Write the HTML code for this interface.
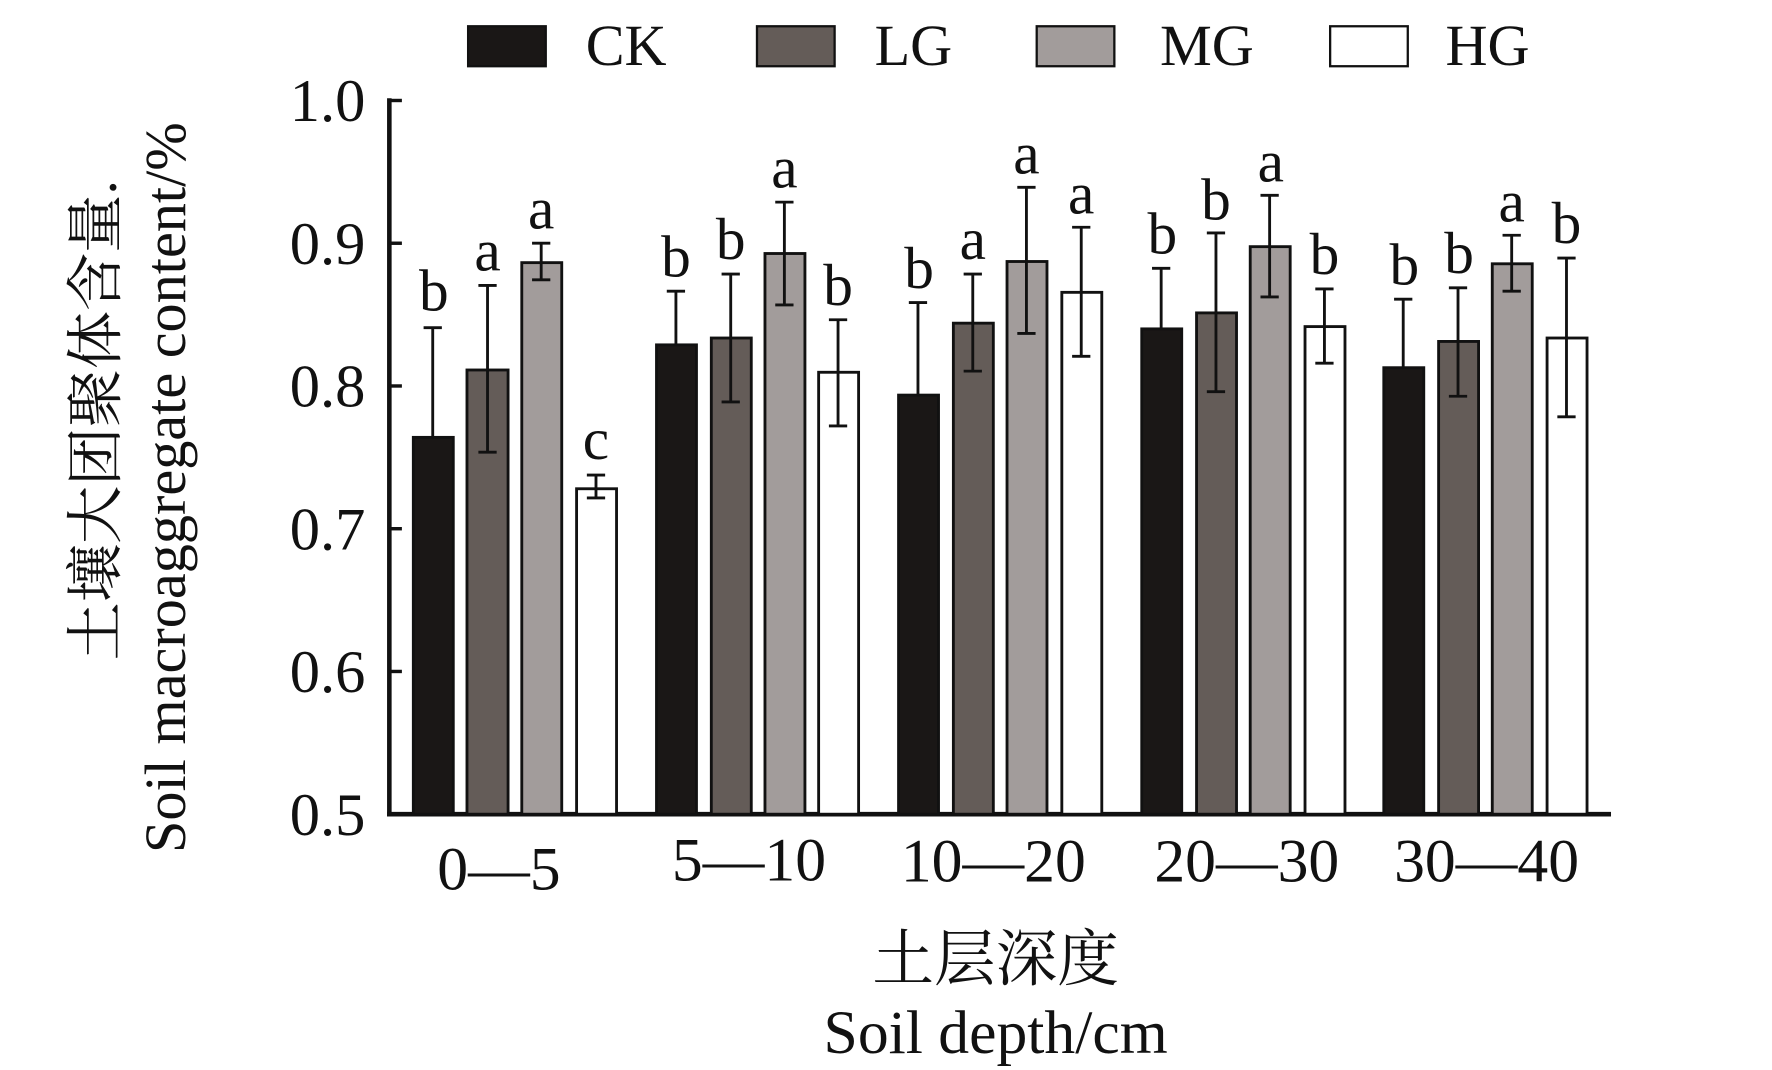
<!DOCTYPE html>
<html><head><meta charset="utf-8"><style>html,body{margin:0;padding:0;background:#fff}svg{display:block}</style></head>
<body>
<svg width="1772" height="1070" viewBox="0 0 1552 937" preserveAspectRatio="none" xmlns="http://www.w3.org/2000/svg" font-family="'Liberation Serif','Noto Serif CJK SC',serif">
<rect width="1552" height="937" fill="#fff"/>
<g font-size="51" fill="#111">
<rect x="410" y="23" width="68" height="35" fill="#1a1716" stroke="#111" stroke-width="2"/><text x="513" y="57">CK</text>
<rect x="663" y="23" width="68" height="35" fill="#645c58" stroke="#111" stroke-width="2"/><text x="766" y="57">LG</text>
<rect x="908" y="23" width="68" height="35" fill="#a29c9b" stroke="#111" stroke-width="2"/><text x="1016" y="57">MG</text>
<rect x="1165" y="23" width="68" height="35" fill="#fff" stroke="#111" stroke-width="2"/><text x="1266" y="57">HG</text>
</g>
<g stroke="#111" stroke-width="4">
<line x1="341" y1="86" x2="341" y2="715"/><line x1="339" y1="713" x2="1411" y2="713"/>
</g>
<g stroke="#111" stroke-width="3">
<line x1="341" y1="88" x2="352" y2="88"/><line x1="341" y1="213" x2="352" y2="213"/><line x1="341" y1="338" x2="352" y2="338"/><line x1="341" y1="463" x2="352" y2="463"/><line x1="341" y1="588" x2="352" y2="588"/>
</g>
<g font-size="53" fill="#111" text-anchor="end">
<text x="320" y="106">1.0</text><text x="320" y="231">0.9</text><text x="320" y="356">0.8</text><text x="320" y="481">0.7</text><text x="320" y="606">0.6</text><text x="320" y="731">0.5</text>
</g>
<g stroke="#111" stroke-width="2.5">
<rect x="362" y="383" width="35" height="330" fill="#1a1716"/>
<rect x="409" y="324" width="36" height="389" fill="#645c58"/>
<rect x="457" y="230" width="35" height="483" fill="#a29c9b"/>
<rect x="505" y="428" width="35" height="285" fill="#fff"/>
<rect x="575" y="302" width="35" height="411" fill="#1a1716"/>
<rect x="623" y="296" width="35" height="417" fill="#645c58"/>
<rect x="670" y="222" width="35" height="491" fill="#a29c9b"/>
<rect x="717" y="326" width="35" height="387" fill="#fff"/>
<rect x="787" y="346" width="35" height="367" fill="#1a1716"/>
<rect x="835" y="283" width="35" height="430" fill="#645c58"/>
<rect x="882" y="229" width="35" height="484" fill="#a29c9b"/>
<rect x="930" y="256" width="35" height="457" fill="#fff"/>
<rect x="1000" y="288" width="35" height="425" fill="#1a1716"/>
<rect x="1048" y="274" width="35" height="439" fill="#645c58"/>
<rect x="1095" y="216" width="35" height="497" fill="#a29c9b"/>
<rect x="1143" y="286" width="35" height="427" fill="#fff"/>
<rect x="1212" y="322" width="35" height="391" fill="#1a1716"/>
<rect x="1260" y="299" width="35" height="414" fill="#645c58"/>
<rect x="1307" y="231" width="35" height="482" fill="#a29c9b"/>
<rect x="1355" y="296" width="35" height="417" fill="#fff"/>
</g>
<g stroke="#111" stroke-width="2.5" fill="none">
<path d="M379 287V383M371 287H387"/>
<path d="M427 250V396M419 250H435M419 396H435"/>
<path d="M474 213V245M466 213H482M466 245H482"/>
<path d="M522 416V436M514 416H530M514 436H530"/>
<path d="M592 255V302M584 255H600"/>
<path d="M640 240V352M632 240H648M632 352H648"/>
<path d="M687 177V267M679 177H695M679 267H695"/>
<path d="M734 280V373M726 280H742M726 373H742"/>
<path d="M804 265V346M796 265H812"/>
<path d="M852 240V325M844 240H860M844 325H860"/>
<path d="M899 164V292M891 164H907M891 292H907"/>
<path d="M947 199V312M939 199H955M939 312H955"/>
<path d="M1017 235V288M1009 235H1025"/>
<path d="M1065 204V343M1057 204H1073M1057 343H1073"/>
<path d="M1112 171V260M1104 171H1120M1104 260H1120"/>
<path d="M1160 253V318M1152 253H1168M1152 318H1168"/>
<path d="M1229 262V322M1221 262H1237"/>
<path d="M1277 252V347M1269 252H1285M1269 347H1285"/>
<path d="M1324 206V255M1316 206H1332M1316 255H1332"/>
<path d="M1372 226V365M1364 226H1380M1364 365H1380"/>
</g>
<g font-size="52" fill="#111" text-anchor="middle">
<text x="380" y="272">b</text><text x="427" y="237">a</text><text x="474" y="200">a</text><text x="522" y="402">c</text>
<text x="592" y="242">b</text><text x="640" y="227">b</text><text x="687" y="164">a</text><text x="734" y="267">b</text>
<text x="805" y="252">b</text><text x="852" y="227">a</text><text x="899" y="152">a</text><text x="947" y="187">a</text>
<text x="1018" y="222">b</text><text x="1065" y="192">b</text><text x="1113" y="159">a</text><text x="1160" y="240">b</text>
<text x="1230" y="249">b</text><text x="1278" y="239">b</text><text x="1324" y="194">a</text><text x="1372" y="213">b</text>
</g>
<g font-size="54" fill="#111" text-anchor="middle">
<text x="437" y="779">0—5</text><text x="656" y="771">5—10</text><text x="870" y="772">10—20</text><text x="1092" y="772">20—30</text><text x="1302" y="772">30—40</text>
<text x="872" y="858">土层深度</text>
<text x="872" y="922">Soil depth/cm</text>
</g>
<g font-size="51" fill="#111" text-anchor="middle">
<text transform="translate(101,368) rotate(-90)">土壤大团聚体含量.</text>
<text transform="translate(162,427) rotate(-90)">Soil macroaggregate content/%</text>
</g>
</svg>
</body></html>
